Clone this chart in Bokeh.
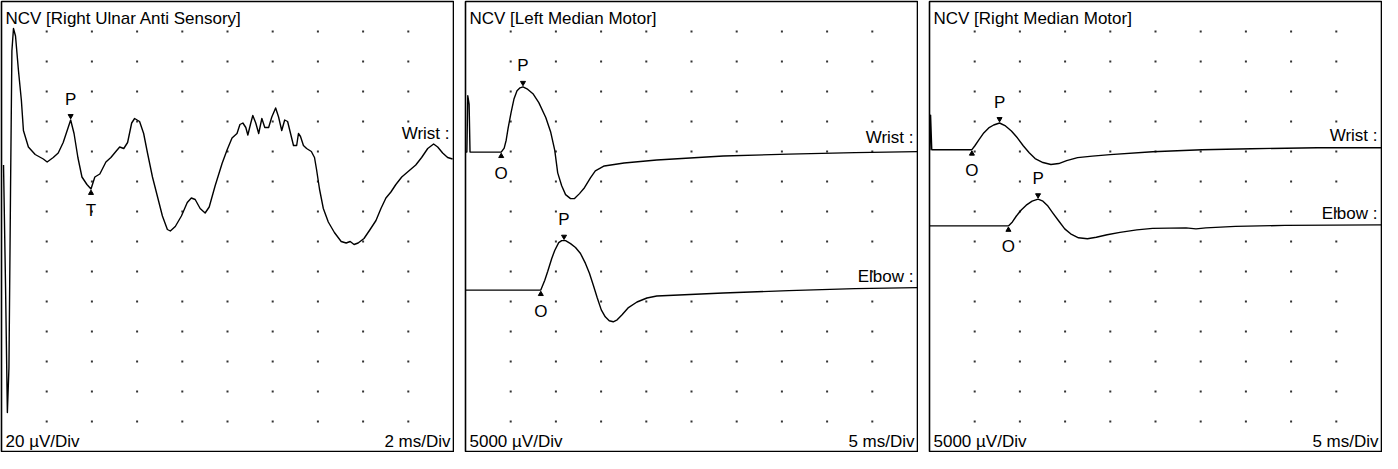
import numpy as np
from bokeh.plotting import figure
from bokeh.layouts import row
from bokeh.models import Range1d
from bokeh.core.properties import value
from bokeh.embed import file_html
from bokeh.resources import INLINE

FONT = "Liberation Sans"
FS = "17px"

# ---------------- data ----------------
# Panel 1: Right Ulnar Anti Sensory (2 ms/Div, 20 uV/Div)
ulnar_ms = [0.09,0.18,0.26,0.33,0.40,0.46,0.53,0.62,0.75,0.88,
            0.97,1.19,1.49,1.85,2.02,2.29,2.51,2.73,2.95,3.06,
            3.21,3.38,3.56,3.78,3.96,4.13,4.35,4.62,4.84,5.06,
            5.23,5.41,5.58,5.76,5.89,6.11,6.29,6.46,6.68,6.90,
            7.12,7.34,7.47,7.69,7.96,8.22,8.40,8.57,8.79,9.01,
            9.19,9.45,9.76,9.98,10.20,10.42,10.55,10.68,10.81,10.90,
            11.03,11.12,11.25,11.38,11.52,11.65,11.82,11.96,12.13,12.26,
            12.40,12.53,12.66,12.79,12.92,13.06,13.14,13.23,13.36,13.50,
            13.71,13.85,13.94,14.07,14.24,14.46,14.73,15.03,15.25,15.43,
            15.60,15.78,16.04,16.31,16.57,16.79,17.01,17.23,17.45,17.71,
            18.02,18.33,18.59,18.86,19.12,19.30,19.52,19.74,19.96]
ulnar_uv = [41,-41,-124,-94,25,117,132,127,104,84,
            64,53,48,45,43,46,49,56,66,71,
            62,46,33,28,25,33,35,43,46,50,
            53,52,56,69,72,70,62,49,33,20,
            7,-2,-3,0,7,16,19,18,12,9,
            13,27,42,51,59,62,68,69,66,61,
            69,74,69,62,72,66,66,73,79,73,
            64,71,70,62,54,54,62,60,54,52,
            50,46,38,25,12,3,-4,-10,-11,-10,
            -12,-11,-8,-2,4,12,19,23,28,33,
            37,41,46,52,55,53,49,46,45]
ulnar_marks = [("P", 3.06, 71), ("T", 3.96, 25)]
ulnar_label_uv = 62

# Panel 2: Left Median Motor (5 ms/Div, 5000 uV/Div)
lw_ms = [0,0.15,0.25,0.40,0.50,3.95,4.28,4.50,4.71,5.04,5.37,5.70,6.03,6.36,6.80,7.46,8.11,8.88,9.43,9.87,
         10.20,10.64,11.07,11.62,12.06,12.61,13.16,13.82,14.36,15.35,17.54,21.16,28.51,35.75,43.09,50]
lw_uv = [0,0,9400,8000,0,0,660,1980,3960,6590,8900,10220,10715,10880,10550,9730,8240,5770,3300,330,
         -3460,-5600,-7090,-7750,-7750,-6920,-5930,-4290,-3130,-2310,-1810,-1320,-660,-330,-80,80]
le_ms = [0,8.33,8.77,9.10,9.54,9.87,10.31,10.64,11.07,11.62,12.17,12.72,13.27,13.71,14.14,
         14.58,15.02,15.46,15.90,16.34,16.78,17.32,17.98,18.97,20.07,21.16,28.51,35.75,43.09,50]
le_uv = [0,0,1650,3130,5280,6590,7910,8240,8240,7750,7090,6100,4450,2800,820,
         -1320,-3300,-4450,-5110,-5280,-4950,-4120,-2970,-1980,-1320,-990,-495,-80,250,410]
lmm_offsets = [49900, 26900]
lmm_marks = [[("O", 3.95, 0), ("P", 6.36, 10880)], [("O", 8.33, 0), ("P", 10.9, 8240)]]
lmm_label_uv = [52400, 29200]

# Panel 3: Right Median Motor (5 ms/Div, 5000 uV/Div)
rw_ms = [0,0.05,0.12,0.25,4.69,5.02,5.46,6.00,6.55,7.10,7.75,8.41,9.06,9.72,10.37,
         11.03,11.68,12.55,13.43,14.30,15.17,16.38,18.01,19.98,24.67,30.13,35.59,42.90,50]
rw_uv = [0,0,5770,0,0,660,1650,2800,3630,4120,4450,3960,3130,1980,660,
         -495,-1480,-2140,-2470,-2310,-1810,-1320,-1070,-820,-330,0,165,330,330]
re_ms = [0,8.73,9.17,9.61,10.15,10.70,11.35,12.01,12.55,13.10,13.65,14.30,14.96,15.61,16.48,
         17.47,18.45,19.65,21.07,22.93,24.67,28.38,29.48,30.57,33.84,39.30,50]
re_uv = [0,0,660,1650,2640,3460,4120,4450,4120,3300,2140,820,-495,-1320,-1980,
         -2140,-1900,-1480,-1070,-660,-410,-330,-495,-330,-80,80,165]
rmm_offsets = [50300, 37600]
rmm_marks = [[("O", 4.69, 0), ("P", 7.75, 4450)], [("O", 8.73, 0), ("P", 12.01, 4450)]]
rmm_label_uv = [52600, 39600]

# ---------------- drawing ----------------
FW, FH = 452, 450


def txt(p, x, y, s, align="left"):
    p.text(x=[x], y=[y], text=[s], text_font=value(FONT), text_font_size=FS,
           text_color="black", text_align=align, text_baseline="middle")


def panel(title, ms_div, uv_div, y0, traces, names, name_uv, marks, amp_label, time_label):
    x1 = ms_div * 10
    y1 = y0 + uv_div * 15
    p = figure(width=FW + 2, height=FH + 2, min_border=1,
               x_range=Range1d(0, x1), y_range=Range1d(y0, y1),
               x_axis_type=None, y_axis_type=None,
               toolbar_location=None, output_backend="svg")
    p.grid.visible = False
    p.outline_line_color = "black"
    p.outline_line_width = 1.6
    p.background_fill_color = "white"
    p.border_fill_color = "white"
    dxp = x1 / FW
    dyp = (y1 - y0) / FH

    gx, gy = np.meshgrid(np.arange(1, 10) * ms_div, y0 + np.arange(1, 15) * uv_div)
    p.scatter(gx.ravel(), gy.ravel(), marker="square", size=2, color="#333333", line_width=0)

    for (ms, uv, off), nm, nuv, mk in zip(traces, names, name_uv, marks):
        yy = np.array(uv, dtype=float) + off
        p.line(ms, yy, line_color="black", line_width=1.4, line_join="round")
        txt(p, x1 - 4 * dxp, nuv, nm + " :", align="right")
        for kind, t, a in mk:
            v = a + off
            if kind == "P":
                p.scatter([t], [v + 4 * dyp], marker="inverted_triangle", size=5, color="black")
                txt(p, t, v + 21 * dyp, kind, align="center")
            else:
                p.scatter([t], [v - 4 * dyp], marker="triangle", size=5, color="black")
                txt(p, t, v - 21 * dyp, kind, align="center")

    txt(p, 4 * dxp, y1 - 17 * dyp, title)
    txt(p, 4 * dxp, y0 + 10 * dyp, amp_label)
    txt(p, x1 - 3 * dxp, y0 + 10 * dyp, time_label, align="right")
    return p


p1 = panel("NCV [Right Ulnar Anti Sensory]", 2, 20, -150,
           [(ulnar_ms, ulnar_uv, 0)], ["Wrist"], [ulnar_label_uv], [ulnar_marks],
           "20 \u00b5V/Div", "2 ms/Div")
p2 = panel("NCV [Left Median Motor]", 5, 5000, 0,
           [(lw_ms, lw_uv, lmm_offsets[0]), (le_ms, le_uv, lmm_offsets[1])],
           ["Wrist", "Elbow"], lmm_label_uv, lmm_marks,
           "5000 \u00b5V/Div", "5 ms/Div")
p3 = panel("NCV [Right Median Motor]", 5, 5000, 0,
           [(rw_ms, rw_uv, rmm_offsets[0]), (re_ms, re_uv, rmm_offsets[1])],
           ["Wrist", "Elbow"], rmm_label_uv, rmm_marks,
           "5000 \u00b5V/Div", "5 ms/Div")

layout = row(p1, p2, p3, spacing=10)
open("out.html", "w").write(file_html(layout, INLINE))
